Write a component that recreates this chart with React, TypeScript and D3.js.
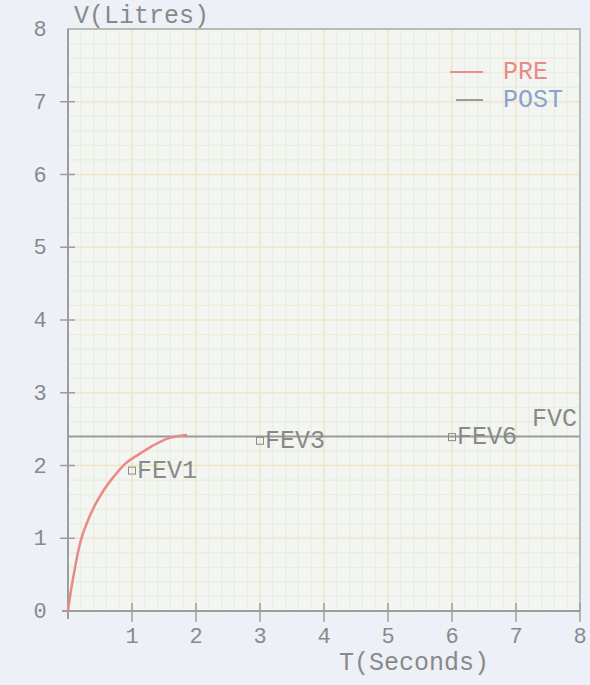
import { useEffect, useRef } from 'react';
import * as d3 from 'd3';

// values
const preT = [0, 0.05, 0.1, 0.15, 0.2, 0.3, 0.4, 0.55, 0.7, 0.9, 1.1, 1.3, 1.55, 1.86];
const preV = [0, 0.3, 0.55, 0.78, 0.97, 1.22, 1.42, 1.65, 1.83, 2.03, 2.15, 2.26, 2.37, 2.42];
const postT = [0, 8];
const postV = [2.4, 2.4];
const markerNames = ['FEV1', 'FEV3', 'FEV6'];
const markerT = [1, 3, 6];
const markerV = [1.93, 2.34, 2.39];
const xTicks = [1, 2, 3, 4, 5, 6, 7, 8];
const yTicks = [0, 1, 2, 3, 4, 5, 6, 7, 8];

const font = '"Liberation Mono", "Courier New", monospace';
const textColor = '#888a8a';

export default function App() {
    const svgRef = useRef<SVGSVGElement>(null);

    useEffect(() => {
        const svg = d3.select(svgRef.current);
        svg.selectAll('*').remove();

        const width = 590;
        const height = 685;
        const x = d3.scaleLinear().domain([0, 8]).range([68, 580]);
        const y = d3.scaleLinear().domain([0, 8]).range([611, 29]);

        svg.attr('width', width).attr('height', height);

        svg.append('rect')
            .attr('width', width)
            .attr('height', height)
            .attr('fill', '#edf1f7');

        // plot paper
        svg.append('rect')
            .attr('x', x(0))
            .attr('y', y(8))
            .attr('width', x(8) - x(0))
            .attr('height', y(0) - y(8))
            .attr('fill', '#f3f5f2');

        // minor grid
        const minor = d3.range(0, 8.001, 0.2);
        const g = svg.append('g');
        g.selectAll('.mx')
            .data(minor)
            .enter()
            .append('line')
            .attr('x1', (d) => x(d))
            .attr('x2', (d) => x(d))
            .attr('y1', y(0))
            .attr('y2', y(8))
            .attr('stroke', '#e9eddb')
            .attr('stroke-width', 1.2);
        g.selectAll('.my')
            .data(minor)
            .enter()
            .append('line')
            .attr('y1', (d) => y(d))
            .attr('y2', (d) => y(d))
            .attr('x1', x(0))
            .attr('x2', x(8))
            .attr('stroke', '#e9eddb')
            .attr('stroke-width', 1.2);

        // major grid
        g.selectAll('.gx')
            .data(xTicks)
            .enter()
            .append('line')
            .attr('x1', (d) => x(d))
            .attr('x2', (d) => x(d))
            .attr('y1', y(0))
            .attr('y2', y(8))
            .attr('stroke', '#f1e7c8')
            .attr('stroke-width', 1.5);
        g.selectAll('.gy')
            .data(yTicks)
            .enter()
            .append('line')
            .attr('y1', (d) => y(d))
            .attr('y2', (d) => y(d))
            .attr('x1', x(0))
            .attr('x2', x(8))
            .attr('stroke', '#f1e7c8')
            .attr('stroke-width', 1.5);

        // frame
        svg.append('rect')
            .attr('x', x(0))
            .attr('y', y(8))
            .attr('width', x(8) - x(0))
            .attr('height', y(0) - y(8))
            .attr('fill', 'none')
            .attr('stroke', '#a8aaaa')
            .attr('stroke-width', 1.5);

        // axis lines
        svg.append('line')
            .attr('x1', x(0)).attr('x2', x(0))
            .attr('y1', y(0) + 8).attr('y2', y(8))
            .attr('stroke', '#9c9e9e').attr('stroke-width', 2);
        svg.append('line')
            .attr('x1', x(0) - 6).attr('x2', x(8))
            .attr('y1', y(0)).attr('y2', y(0))
            .attr('stroke', '#9c9e9e').attr('stroke-width', 2);

        // ticks
        svg.selectAll('.tx')
            .data(xTicks)
            .enter()
            .append('line')
            .attr('x1', (d) => x(d)).attr('x2', (d) => x(d))
            .attr('y1', y(0) - 8).attr('y2', y(0) + 11)
            .attr('stroke', '#9c9e9e').attr('stroke-width', 1.5);
        svg.selectAll('.ty')
            .data(yTicks.slice(1, -1))
            .enter()
            .append('line')
            .attr('y1', (d) => y(d)).attr('y2', (d) => y(d))
            .attr('x1', x(0) - 8).attr('x2', x(0) + 7)
            .attr('stroke', '#9c9e9e').attr('stroke-width', 1.5);

        // tick labels
        svg.selectAll('.lx')
            .data(xTicks)
            .enter()
            .append('text')
            .attr('x', (d) => x(d))
            .attr('y', y(0) + 32)
            .attr('text-anchor', 'middle')
            .style('font-family', font)
            .style('font-size', '22px')
            .style('fill', textColor)
            .text((d) => d);
        svg.selectAll('.ly')
            .data(yTicks)
            .enter()
            .append('text')
            .attr('x', 40)
            .attr('y', (d) => y(d) + 7)
            .attr('text-anchor', 'middle')
            .style('font-family', font)
            .style('font-size', '22px')
            .style('fill', textColor)
            .text((d) => d);

        // axis titles
        svg.append('text')
            .attr('x', 74)
            .attr('y', 23)
            .style('font-family', font)
            .style('font-size', '25px')
            .style('fill', textColor)
            .text('V(Litres)');
        svg.append('text')
            .attr('x', 339)
            .attr('y', 670)
            .style('font-family', font)
            .style('font-size', '25px')
            .style('fill', textColor)
            .text('T(Seconds)');

        // POST line
        const line = d3
            .line<number>()
            .x((_, i) => x(postT[i]))
            .y((d) => y(d));
        svg.append('path')
            .attr('d', line(postV))
            .attr('fill', 'none')
            .attr('stroke', '#9a9c9a')
            .attr('stroke-width', 2);

        // PRE curve
        const preLine = d3
            .line<number>()
            .x((_, i) => x(preT[i]))
            .y((d) => y(d))
            .curve(d3.curveMonotoneX);
        svg.append('path')
            .attr('d', preLine(preV))
            .attr('fill', 'none')
            .attr('stroke', '#e88a86')
            .attr('stroke-width', 2.5);

        // markers
        const m = svg.selectAll('.mk')
            .data(markerNames)
            .enter()
            .append('g')
            .attr('transform', (_, i) => `translate(${x(markerT[i])},${y(markerV[i])})`);
        m.append('rect')
            .attr('x', -3.5)
            .attr('y', -3.5)
            .attr('width', 7)
            .attr('height', 7)
            .attr('fill', 'none')
            .attr('stroke', '#8c8c8c')
            .attr('stroke-width', 1);
        m.append('text')
            .attr('x', 5)
            .attr('y', 7)
            .style('font-family', font)
            .style('font-size', '25px')
            .style('fill', textColor)
            .text((d) => d);

        svg.append('text')
            .attr('x', x(7.25))
            .attr('y', y(2.5) - 3)
            .style('font-family', font)
            .style('font-size', '25px')
            .style('fill', textColor)
            .text('FVC');

        // legend
        const legend = [
            { label: 'PRE', line: '#ea8f8c', text: '#e88a86' },
            { label: 'POST', line: '#9a9c9a', text: '#8aa2cf' },
        ];
        const lg = svg.selectAll('.lg')
            .data(legend)
            .enter()
            .append('g')
            .attr('transform', (_, i) => `translate(450,${72 + i * 28})`);
        lg.append('line')
            .attr('x1', (_, i) => (i === 0 ? 0 : 6))
            .attr('x2', 33)
            .attr('stroke', (d) => d.line)
            .attr('stroke-width', 2);
        lg.append('text')
            .attr('x', 53)
            .attr('y', 7)
            .style('font-family', font)
            .style('font-size', '25px')
            .style('fill', (d) => d.text)
            .text((d) => d.label);
    }, []);

    return (
        <div>
            <style>{'body{margin:0;}'}</style>
            <svg ref={svgRef}></svg>
        </div>
    );
}
